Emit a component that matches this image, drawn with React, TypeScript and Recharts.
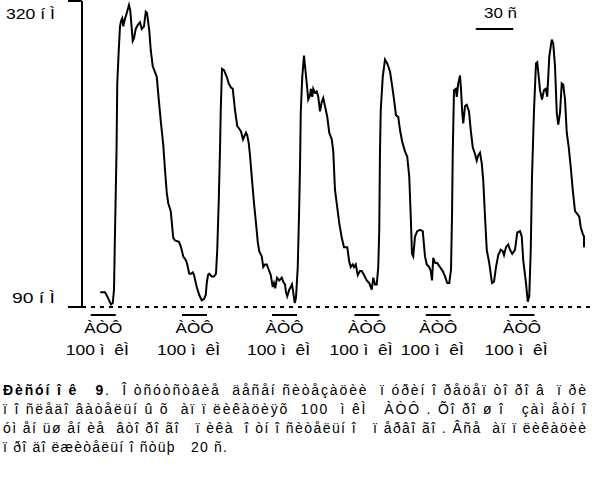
import { LineChart, Line, XAxis, YAxis, ReferenceLine } from 'recharts';

// Ca2+ trace, time in s and concentration in nM
const timeSec = [
  14.6, 18.4, 20.2, 23.2, 24.6, 25.6, 26.4, 27.6, 28.2, 29.4,
  30.4, 31.2, 32.2, 33.0, 34.2, 35.8, 37.6, 38.6, 40.6, 41.6,
  43.0, 44.6, 46.4, 47.8, 49.6, 51.0, 52.0, 53.8, 55.0, 56.6,
  57.8, 59.8, 61.4, 63.2, 65.0, 66.4, 67.8, 69.0, 71.0, 73.0,
  74.4, 77.6, 79.2, 81.0, 83.2, 84.2, 85.8, 87.2, 88.6, 89.6,
  91.8, 93.8, 95.8, 97.6, 99.0, 99.8, 100.8, 101.8, 103.8, 105.6,
  107.2, 108.2, 109.4, 110.4, 111.0, 112.0, 113.6, 115.8, 117.4, 119.2,
  120.6, 122.4, 124.2, 125.8, 127.2, 128.8, 130.2, 131.2, 132.2, 133.4,
  134.4, 135.8, 137.6, 139.2, 140.6, 141.8, 143.8, 145.0, 146.4, 147.8,
  149.4, 151.0, 152.6, 153.6, 154.6, 156.0, 157.8, 159.8, 161.0, 162.4,
  163.2, 164.2, 165.8, 167.0, 168.0, 169.0, 170.2, 171.2, 172.6, 173.6,
  174.4, 175.0, 176.2, 177.6, 178.4, 179.8, 181.0, 182.4, 183.2, 184.2,
  185.0, 186.4, 187.8, 189.0, 190.4, 191.8, 193.0, 194.4, 196.2, 197.8,
  199.8, 201.0, 202.4, 205.8, 207.8, 209.6, 212.2, 213.8, 215.0, 216.6,
  217.6, 219.0, 220.6, 222.4, 223.8, 225.6, 227.8, 229.8, 231.8, 233.0,
  234.4, 235.8, 237.0, 237.8, 238.4, 239.0, 240.6, 242.4, 244.2, 246.4,
  248.0, 249.6, 251.2, 253.0, 254.4, 256.2, 258.4, 260.2, 261.8, 263.0,
  264.0, 265.0, 266.4, 268.2, 270.4, 272.6, 274.4, 275.8, 277.8, 279.0,
  280.0, 281.0, 282.6, 284.2, 286.4, 288.6, 290.4, 292.2, 293.8, 295.2,
  296.0, 296.6, 297.6, 299.0, 299.8, 301.0, 302.4, 303.2, 304.2, 305.0,
  306.4, 307.8, 309.6, 311.0, 312.6, 314.4, 315.8, 317.0, 318.4, 319.8,
  321.0, 322.4, 323.8, 325.8, 328.0, 329.6, 331.2, 333.0, 335.0, 336.6,
  337.6, 339.2, 341.0, 342.4, 344.2, 346.4, 348.2, 350.4, 351.8, 353.0,
  355.2, 356.6, 357.8, 359.0, 360.0, 361.6, 363.2, 364.2, 365.4, 366.4,
  368.0, 369.6, 371.0, 372.2, 373.8, 375.8, 377.0, 378.4, 379.8, 381.0,
  382.4, 383.8, 385.0, 386.4, 387.8, 389.4, 391.0, 392.6, 394.4, 396.2,
  397.8, 399.0, 400.6, 401.6, 401.6,
];

const caNm = [
  101, 101, 98, 92, 93, 103, 146, 206, 258, 283,
  301, 305, 307, 301, 306, 311, 317, 313, 290, 292,
  299, 302, 304, 299, 301, 312, 311, 298, 283, 271,
  268, 263, 246, 228, 212, 193, 176, 168, 162, 142,
  140, 139, 135, 128, 125, 122, 115, 115, 116, 114,
  105, 99, 95, 96, 99, 108, 114, 115, 113, 113,
  115, 133, 170, 208, 238, 269, 268, 263, 258, 255,
  254, 238, 226, 224, 222, 216, 219, 221, 219, 213,
  204, 188, 168, 153, 139, 132, 128, 120, 122, 122,
  118, 114, 105, 108, 104, 112, 110, 112, 109, 107,
  101, 98, 103, 105, 107, 101, 93, 97, 120, 158,
  195, 236, 263, 279, 271, 258, 246, 249, 254, 248,
  254, 251, 252, 248, 237, 244, 247, 241, 233, 221,
  216, 207, 178, 153, 142, 135, 135, 124, 120, 122,
  120, 122, 114, 117, 117, 114, 110, 108, 103, 112,
  107, 107, 120, 148, 208, 238, 263, 276, 273, 267,
  257, 246, 234, 233, 223, 214, 207, 203, 188, 158,
  130, 128, 143, 147, 148, 147, 128, 122, 120, 117,
  110, 127, 123, 123, 120, 117, 113, 108, 108, 118,
  158, 206, 253, 254, 248, 258, 264, 254, 236, 228,
  241, 242, 237, 223, 210, 205, 200, 204, 206, 198,
  185, 158, 133, 123, 108, 109, 120, 129, 133, 132,
  129, 135, 137, 133, 130, 133, 146, 147, 143, 125,
  108, 94, 98, 133, 188, 238, 273, 274, 263, 253,
  246, 253, 254, 248, 278, 291, 288, 271, 236, 227,
  236, 258, 257, 246, 221, 210, 195, 178, 162, 160,
  158, 150, 145, 143, 135,
];

const yTicks = [90, 320];
const yUnit = 'í Ì';

// ATP applications (start, s), 20 s each
const atpStarts = [7, 80, 152, 218, 275, 342];
const atpDuration = 20;
const atpLevel = 84;
const atpName = 'ÀÒÔ';
const atpDose = '100 ì  êÌ';

// time scale bar
const scaleBarStart = 315;
const scaleBarLength = 30;
const scaleBarLevel = 299;
const scaleBarLabel = '30 ñ';

const captionLines = [
  'ï î ñëåäî âàòåëüí û õ  àï ï ëèêàöèÿõ  100  ì êÌ   ÀÒÔ . Õî ðî ø î   çàì åòí î',
  'óì åí üø åí èå  âòî ðî ãî   ï èêà  î òí î ñèòåëüí î   ï åðâî ãî . Âñå  àï ï ëèêàöèè',
  'ï ðî äî ëæèòåëüí î ñòüþ   20 ñ.',
];
const captionTitle = 'Ðèñóí î ê   9';
const captionFirst = '.  Î òñóòñòâèå  äåñåí ñèòåçàöèè  ï óðèí î ðåöåï òî ðî â  ï ðè';

const data = timeSec.map((t, i) => ({ t, ca: caNm[i] }));

const font = '"Liberation Sans", Arial, sans-serif';
const pre = { whiteSpace: 'pre' as const };

function YTick({ x, y, payload }: any) {
  const top = payload.value === yTicks[1];
  return (
    <text
      x={x}
      y={y + (top ? 18 : -4)}
      textAnchor="end"
      fontSize={14}
      fill="#000"
      textLength={top ? 49 : 43}
      lengthAdjust="spacingAndGlyphs"
      style={pre}
    >
      {`${payload.value} ${yUnit}`}
    </text>
  );
}

const atpLabel = (props: any) => {
  const vb = props.viewBox;
  const cx = vb.x + vb.width / 2;
  return (
    <g>
      <text x={cx} y={vb.y + 18} textAnchor="middle" fontSize={15} fill="#000"
        textLength={38} lengthAdjust="spacingAndGlyphs">
        {atpName}
      </text>
      <text x={cx - 6} y={vb.y + 40} textAnchor="middle" fontSize={15} fill="#000"
        textLength={63} lengthAdjust="spacingAndGlyphs" style={pre}>
        {atpDose}
      </text>
    </g>
  );
};

const scaleLabel = (props: any) => {
  const vb = props.viewBox;
  return (
    <text x={vb.x + vb.width / 2 + 6} y={vb.y - 11} textAnchor="middle" fontSize={15}
      fill="#000" textLength={33} lengthAdjust="spacingAndGlyphs" style={pre}>
      {scaleBarLabel}
    </text>
  );
};

export default function App() {
  return (
    <div style={{ position: 'absolute', left: 0, top: 0, width: 592, height: 478, fontFamily: font }}>
      <LineChart
        width={592}
        height={478}
        data={data}
        margin={{ top: 1, right: 0, bottom: 171, left: 0 }}
      >
        <XAxis type="number" dataKey="t" domain={[0, 408]} hide allowDataOverflow />
        <YAxis
          width={82}
          domain={[90, 320]}
          ticks={yTicks}
          interval={0}
          tickSize={14}
          tickMargin={13}
          axisLine={{ stroke: '#000', strokeWidth: 2 }}
          tickLine={{ stroke: '#000', strokeWidth: 2 }}
          tick={<YTick />}
        />
        <ReferenceLine y={90} stroke="#000" strokeWidth={2} strokeDasharray="4 5" />
        {atpStarts.map((s) => (
          <ReferenceLine
            key={s}
            segment={[{ x: s, y: atpLevel }, { x: s + atpDuration, y: atpLevel }]}
            stroke="#000"
            strokeWidth={2}
            ifOverflow="visible"
            label={atpLabel}
          />
        ))}
        <ReferenceLine
          segment={[
            { x: scaleBarStart, y: scaleBarLevel },
            { x: scaleBarStart + scaleBarLength, y: scaleBarLevel },
          ]}
          stroke="#000"
          strokeWidth={2}
          ifOverflow="visible"
          label={scaleLabel}
        />
        <Line
          type="linear"
          dataKey="ca"
          stroke="#000"
          strokeWidth={2}
          dot={false}
          isAnimationActive={false}
        />
      </LineChart>
      <svg
        width={592}
        height={478}
        style={{ position: 'absolute', left: 0, top: 0, pointerEvents: 'none' }}
      >
        <text x={3} y={395} fontSize={14} fill="#000" textLength={583}
          lengthAdjust="spacing" style={pre}>
          <tspan fontWeight="bold">{captionTitle}</tspan>
          <tspan>{captionFirst}</tspan>
        </text>
        {captionLines.map((line, i) => (
          <text key={i} x={3} y={414 + i * 19} fontSize={14} fill="#000"
            textLength={i < 2 ? 583 : 224} lengthAdjust="spacing" style={pre}>
            {line}
          </text>
        ))}
      </svg>
    </div>
  );
}
